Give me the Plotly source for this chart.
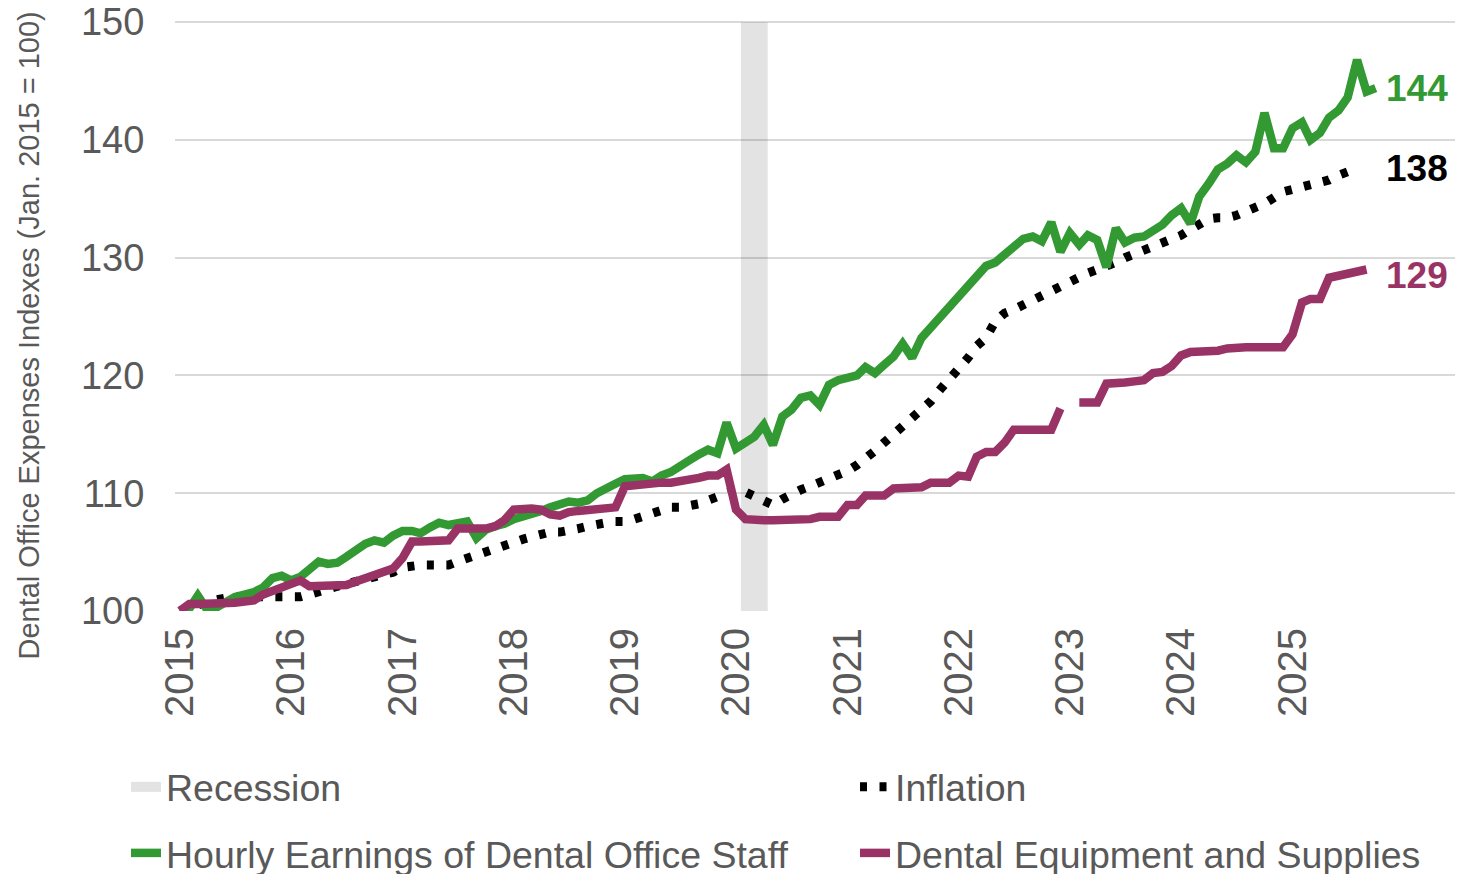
import pandas as pd
import plotly.graph_objects as go

# ---------------- data ----------------
months = pd.date_range("2015-01-01", periods=130, freq="MS")

hourly_earnings = [
    100.0, 100.2, 101.3, 100.1, 100.3, 100.8, 101.2, 101.4, 101.6, 102.0,
    102.8, 103.0, 102.6, 102.9, 103.5, 104.2, 104.0, 104.1, 104.6, 105.2,
    105.7, 106.0, 105.8, 106.4, 106.8, 106.8, 106.6, 107.1, 107.5, 107.3,
    107.4, 107.6, 106.2, 106.9, 107.2, 107.4, 107.8, 108.0, 108.2, 108.5,
    108.8, 109.1, 109.3, 109.2, 109.4, 110.0, 110.5, 110.8, 111.2, 111.3,
    111.3, 111.0, 111.5, 111.8, 112.2, 112.8, 113.3, 113.7, 113.4, 116.0,
    113.8, 114.3, 114.8, 115.8, 114.1, 116.5, 117.1, 118.1, 118.3, 117.5,
    119.2, 119.6, 119.8, 120.0, 120.7, 120.2, 120.9, 121.6, 122.7, 121.5,
    123.2, 124.1, 124.8, 125.8, 126.8, 127.8, 128.6, 129.3, 129.6, 130.3,
    130.9, 131.6, 131.8, 131.4, 133.0, 130.5, 132.1, 131.1, 131.9, 131.5,
    129.2, 132.5, 131.3, 131.7, 131.8, 132.2, 132.8, 133.6, 134.2, 132.9,
    135.2, 136.3, 137.5, 138.0, 138.7, 138.1, 139.0, 142.3, 139.3, 139.3,
    141.0, 141.5, 140.0, 140.6, 141.9, 142.5, 143.6, 146.8, 144.1, 144.4,
]

equipment_supplies = [
    100.0, 100.6, 100.6, 100.6, 100.6, 100.7, 100.7, 100.8, 100.9, 101.4,
    101.7, 102.1, 102.3, 102.6, 102.1, 102.1, 102.1, 102.1, 102.2, 102.5,
    102.8, 103.1, 103.3, 103.6, 104.5, 105.9, 105.9, 105.9, 105.9, 106.0,
    107.0, 107.0, 107.0, 107.0, 107.2, 107.7, 108.6, 108.7, 108.7, 108.6,
    108.2, 108.1, 108.4, 108.5, 108.6, 108.7, 108.7, 108.8, 110.6, 110.7,
    110.7, 110.8, 110.9, 110.9, 111.0, 111.2, 111.3, 111.5, 111.5, 112.0,
    108.6, 107.8, 107.7, 107.7, 107.7, 107.7, 107.7, 107.7, 107.8, 108.0,
    108.0, 108.0, 109.0, 109.0, 109.8, 109.8, 109.8, 110.4, 110.4, 110.5,
    110.5, 110.9, 110.9, 110.9, 111.5, 111.4, 113.1, 113.5, 113.5, 114.3,
    115.4, 115.4, 115.4, 115.4, 115.4, 117.2, None, 117.7, 117.7, 117.7,
    119.3, 119.3, 119.4, 119.5, 119.6, 120.2, 120.3, 120.8, 121.7, 122.0,
    122.0, 122.0, 122.1, 122.3, 122.4, 122.4, 122.4, 122.4, 122.3, 122.4,
    123.5, 126.2, 126.5, 126.5, 128.3, 128.5, 128.6, 128.8, 129.0,
]

inflation = [
    100.0, 100.2, 100.5, 100.8, 101.0, 101.1, 101.2, 101.2, 101.1, 101.1,
    101.1, 101.2, 101.2, 101.2, 101.4, 101.7, 101.9, 102.1, 102.3, 102.5,
    102.7, 102.9, 103.0, 103.3, 103.7, 103.9, 103.9, 103.9, 103.9, 103.9,
    104.2, 104.5, 104.8, 105.0, 105.3, 105.7, 105.9, 106.1, 106.3, 106.5,
    106.7, 106.7, 106.8, 107.0, 107.2, 107.4, 107.5, 107.6, 107.6, 107.8,
    108.0, 108.3, 108.6, 108.8, 108.8, 108.9, 109.1, 109.4, 109.7, 110.0,
    110.3, 110.1, 109.7, 109.2, 109.0, 109.5, 110.0, 110.3, 110.6, 110.9,
    111.2, 111.5, 111.9, 112.4, 112.9, 113.6, 114.3, 115.0, 115.7, 116.2,
    116.9, 117.8, 118.8, 119.6, 120.4, 121.5, 122.5, 123.2, 124.6, 125.3,
    125.6, 126.0, 126.4, 126.8, 127.1, 127.6, 128.1, 128.4, 128.7, 129.0,
    129.2, 129.6, 130.0, 130.3, 130.8, 131.0, 131.3, 131.5, 131.9, 132.4,
    132.9, 133.3, 133.4, 133.4, 133.6, 133.9, 134.3, 134.6, 135.1, 135.6,
    135.8, 136.0, 136.2, 136.4, 136.6, 137.0, 137.3, 137.6,
]

recession = ["2020-01-17", "2020-04-14"]
year_ticks = [str(y) for y in range(2015, 2026)]
y_ticks = [100, 110, 120, 130, 140, 150]
end_labels = ["144", "138", "129"]

GREEN = "#339933"
PURPLE = "#993366"
GREY_TXT = "#595959"
FONT = "Liberation Sans, Arial, sans-serif"

fig = go.Figure()

# recession band (filled area spanning the y range)
fig.add_trace(go.Scatter(
    x=[recession[0], recession[0], recession[1], recession[1], recession[0]],
    y=[100, 150, 150, 100, 100],
    fill="toself", fillcolor="rgba(0,0,0,0.11)", mode="lines",
    line=dict(width=0, color="rgba(0,0,0,0)"),
    name="Recession", showlegend=False, hoverinfo="skip",
))
# legend entry for the recession band
fig.add_trace(go.Scatter(
    x=[None], y=[None], mode="lines", name="Recession",
    line=dict(color="#e3e3e3", width=20), legend="legend",
))

fig.add_trace(go.Scatter(
    x=months[:len(inflation)], y=inflation, mode="lines", name="Inflation",
    line=dict(color="black", width=9, dash="7px,12.5px"), legend="legend2",
    cliponaxis=False,
))

fig.add_trace(go.Scatter(
    x=months[:len(hourly_earnings)], y=hourly_earnings, mode="lines",
    name="Hourly Earnings of Dental Office Staff",
    line=dict(color=GREEN, width=8.5), legend="legend3", cliponaxis=False,
))

fig.add_trace(go.Scatter(
    x=months[:len(equipment_supplies)], y=equipment_supplies, mode="lines",
    name="Dental Equipment and Supplies", connectgaps=False,
    line=dict(color=PURPLE, width=8.5), legend="legend4", cliponaxis=False,
))

last_x = months[len(hourly_earnings) - 1]
for txt, yv, col, ys in zip(end_labels,
                            [hourly_earnings[-1], inflation[-1], equipment_supplies[-1]],
                            [GREEN, "black", PURPLE], [0, 0, -6]):
    fig.add_annotation(x=last_x, y=yv, text=f"<b>{txt}</b>", showarrow=False,
                       xanchor="left", yanchor="middle", xshift=8, yshift=ys,
                       font=dict(family=FONT, size=37, color=col))

# y-axis title (placed as rotated text, like the reference)
fig.add_annotation(
    xref="paper", yref="paper", x=-0.1134, y=0.4669,
    text="Dental Office Expenses Indexes (Jan. 2015 = 100)", textangle=-90,
    showarrow=False, xanchor="center", yanchor="middle",
    font=dict(family=FONT, size=29, color=GREY_TXT),
)

legend_common = dict(
    orientation="v", xanchor="left", yanchor="middle",
    font=dict(family=FONT, size=37.5, color=GREY_TXT),
    bgcolor="rgba(0,0,0,0)",
    itemclick=False, itemdoubleclick=False,
)
col1_x, col2_x = -0.0378, 0.5247
row1_y, row2_y = -0.2983, -0.4102

fig.update_layout(
    width=1463, height=874,
    margin=dict(l=167, r=0, t=13, b=271, autoexpand=False),
    paper_bgcolor="white", plot_bgcolor="white",
    font=dict(family=FONT, color=GREY_TXT),
    showlegend=True,
    legend=dict(x=col1_x, y=row1_y, **legend_common),
    legend2=dict(x=col2_x, y=row1_y, **legend_common),
    legend3=dict(x=col1_x, y=row2_y, **legend_common),
    legend4=dict(x=col2_x, y=row2_y, **legend_common),
    xaxis=dict(
        type="date", range=["2014-12-16", "2026-08-10"], automargin=False,
        tickvals=[f"{y}-01-01" for y in year_ticks], ticktext=year_ticks,
        tickangle=-90, tickfont=dict(family=FONT, size=40, color=GREY_TXT),
        showgrid=False, zeroline=False, showline=False,
        ticks="outside", ticklen=0, tickcolor="rgba(0,0,0,0)",
        ticklabeloverflow="allow",
    ),
    yaxis=dict(
        range=[100, 150.1], tickvals=y_ticks, automargin=False,
        tickfont=dict(family=FONT, size=38, color=GREY_TXT),
        showgrid=True, gridcolor="#d9d9d9", gridwidth=2,
        zeroline=False, showline=False,
        ticks="outside", ticklen=22, tickcolor="rgba(0,0,0,0)",
        ticklabeloverflow="allow",
    ),
)

fig.write_html("out.html")
